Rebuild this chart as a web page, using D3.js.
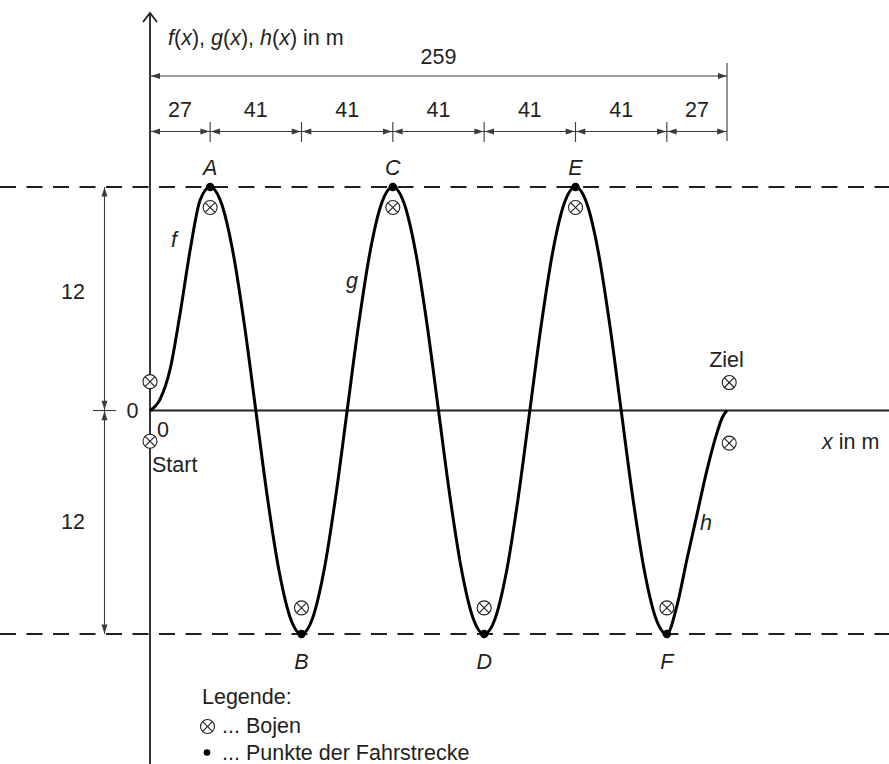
<!DOCTYPE html>
<html><head><meta charset="utf-8">
<script src="https://cdn.jsdelivr.net/npm/d3@7"></script>
<style>
html,body{margin:0;padding:0;background:#fff;}
text{font-family:'Liberation Sans',Arial,Helvetica,sans-serif;fill:#231f20;}
</style></head>
<body>
<svg id="chart" width="889" height="764"></svg>
<script>
// ---- data ----
const fX = [0, 4.5, 9, 13.5, 18, 22.5, 27];
const fY = [0, 0.6, 2.2, 5.2, 8.6, 11.3, 12];
const gX = [27, 32.125, 37.25, 42.375, 47.5, 52.625, 57.75, 62.875, 68, 73.125, 78.25, 83.375, 88.5, 93.625, 98.75, 103.875, 109, 114.125, 119.25, 124.375, 129.5, 134.625, 139.75, 144.875, 150, 155.125, 160.25, 165.375, 170.5, 175.625, 180.75, 185.875, 191, 196.125, 201.25, 206.375, 211.5, 216.625, 221.75, 226.875, 232];
const gY = [12, 11.1, 8.5, 4.6, 0, -4.6, -8.5, -11.1, -12, -11.1, -8.5, -4.6, 0, 4.6, 8.5, 11.1, 12, 11.1, 8.5, 4.6, 0, -4.6, -8.5, -11.1, -12, -11.1, -8.5, -4.6, 0, 4.6, 8.5, 11.1, 12, 11.1, 8.5, 4.6, 0, -4.6, -8.5, -11.1, -12];
const hX = [232, 236.5, 241, 245.5, 250, 254.5, 257, 259];
const hY = [-12, -10.5, -8.0, -5.6, -3.2, -1.2, -0.35, 0];

const pointNames = ["A", "B", "C", "D", "E", "F"];
const pointX = [27, 68, 109, 150, 191, 232];
const pointY = [12, -12, 12, -12, 12, -12];

const buoyX = [0, 0, 27, 68, 109, 150, 191, 232, 260, 260];
const buoyY = [1.55, -1.65, 10.9, -10.6, 10.9, -10.6, 10.9, -10.6, 1.5, -1.75];

const dimTicks = [0, 27, 68, 109, 150, 191, 232, 259];
const dimLabels = ["27", "41", "41", "41", "41", "41", "27"];
const totalLength = 259;
const amplitude = 12;

// ---- scales ----
const svg = d3.select("#chart");
const x = d3.scaleLinear().domain([0, 259]).range([150, 727]);
const y = d3.scaleLinear().domain([-12, 12]).range([634, 187]);
const ink = "#231f20";
const dimInk = "#3a3a3a";
const FS = 21.5;

function arrow(tx, ty, dir, len = 9, hw = 3) {
  let p;
  if (dir === "left") p = [[tx, ty], [tx + len, ty - hw], [tx + len, ty + hw]];
  if (dir === "right") p = [[tx, ty], [tx - len, ty - hw], [tx - len, ty + hw]];
  if (dir === "up") p = [[tx, ty], [tx - hw, ty + len], [tx + hw, ty + len]];
  if (dir === "down") p = [[tx, ty], [tx - hw, ty - len], [tx + hw, ty - len]];
  svg.append("path").attr("d", "M" + p.map(q => q.join(",")).join("L") + "Z").attr("fill", dimInk);
}

// ---- dashed bounds ----
[amplitude, -amplitude].forEach(v => {
  svg.append("line").attr("x1", 0).attr("x2", 889).attr("y1", y(v)).attr("y2", y(v))
    .attr("stroke", ink).attr("stroke-width", 2).attr("stroke-dasharray", "16,10.5");
});

// ---- axes ----
svg.append("line").attr("x1", x(0)).attr("x2", 889).attr("y1", y(0)).attr("y2", y(0))
  .attr("stroke", ink).attr("stroke-width", 1.8);
svg.append("line").attr("x1", x(0)).attr("x2", x(0)).attr("y1", 13).attr("y2", 764)
  .attr("stroke", ink).attr("stroke-width", 1.8);
svg.append("path").attr("d", `M${x(0) - 7},${22} L${x(0)},${13} L${x(0) + 7},${22}`)
  .attr("fill", "none").attr("stroke", ink).attr("stroke-width", 1.8);

// ---- axis titles ----
const title = svg.append("text").attr("x", 168).attr("y", 45).attr("font-size", FS);
[["f", 1], ["(", 0], ["x", 1], ["), ", 0], ["g", 1], ["(", 0], ["x", 1], ["), ", 0], ["h", 1], ["(", 0], ["x", 1], [") in m", 0]]
  .forEach(([t, it]) => title.append("tspan").attr("font-style", it ? "italic" : "normal").text(t));

const xt = svg.append("text").attr("x", 822).attr("y", 449).attr("font-size", FS);
xt.append("tspan").attr("font-style", "italic").text("x");
xt.append("tspan").text(" in m");

svg.append("text").attr("x", 157).attr("y", 437).attr("font-size", FS).text("0");
svg.append("text").attr("x", 132.5).attr("y", 418).attr("font-size", FS).attr("text-anchor", "middle").text("0");
svg.append("text").attr("x", 152).attr("y", 472).attr("font-size", FS).text("Start");
svg.append("text").attr("x", 726.5).attr("y", 367).attr("font-size", FS).attr("text-anchor", "middle").text("Ziel");

// ---- top dimensions ----
const topY1 = 76, topY2 = 131.5;
svg.append("text").attr("x", x(totalLength / 2)).attr("y", 64).attr("font-size", FS)
  .attr("text-anchor", "middle").text(String(totalLength));
svg.append("line").attr("x1", x(0)).attr("x2", x(totalLength)).attr("y1", topY1).attr("y2", topY1)
  .attr("stroke", dimInk).attr("stroke-width", 1.1);
arrow(x(0) + 1, topY1, "left");
arrow(x(totalLength), topY1, "right");
svg.append("line").attr("x1", x(totalLength)).attr("x2", x(totalLength)).attr("y1", 63).attr("y2", 141)
  .attr("stroke", dimInk).attr("stroke-width", 1.1);
svg.append("line").attr("x1", x(0)).attr("x2", x(totalLength)).attr("y1", topY2).attr("y2", topY2)
  .attr("stroke", dimInk).attr("stroke-width", 1.1);
dimTicks.forEach((t, i) => {
  if (i > 0 && i < dimTicks.length - 1) {
    svg.append("line").attr("x1", x(t)).attr("x2", x(t)).attr("y1", 122).attr("y2", 142)
      .attr("stroke", dimInk).attr("stroke-width", 1.1);
  }
  if (i < dimTicks.length - 1) {
    const a = dimTicks[i], b = dimTicks[i + 1];
    arrow(x(a) + (i === 0 ? 1 : 0.8), topY2, "left");
    arrow(x(b) - 0.8, topY2, "right");
    svg.append("text").attr("x", (x(a) + x(b)) / 2).attr("y", 117).attr("font-size", FS)
      .attr("text-anchor", "middle").text(dimLabels[i]);
  }
});

// ---- left dimensions ----
const lx = 104.5;
svg.append("line").attr("x1", lx).attr("x2", lx).attr("y1", y(amplitude)).attr("y2", y(-amplitude))
  .attr("stroke", dimInk).attr("stroke-width", 1.1);
svg.append("line").attr("x1", 93).attr("x2", 116).attr("y1", y(0)).attr("y2", y(0))
  .attr("stroke", dimInk).attr("stroke-width", 1.1);
arrow(lx, y(amplitude) + 0.5, "up");
arrow(lx, y(0) - 0.8, "down");
arrow(lx, y(0) + 0.8, "up");
arrow(lx, y(-amplitude) - 0.5, "down");
svg.append("text").attr("x", 73).attr("y", 299).attr("font-size", FS).attr("text-anchor", "middle").text(String(amplitude));
svg.append("text").attr("x", 73).attr("y", 529).attr("font-size", FS).attr("text-anchor", "middle").text(String(amplitude));

// ---- curve ----
const pts = [];
fX.forEach((v, i) => pts.push([v, fY[i]]));
gX.forEach((v, i) => { if (i > 0) pts.push([v, gY[i]]); });
hX.forEach((v, i) => { if (i > 0) pts.push([v, hY[i]]); });
const line = d3.line().x(d => x(d[0])).y(d => y(d[1])).curve(d3.curveMonotoneX);
svg.append("path").attr("d", line(pts)).attr("fill", "none").attr("stroke", "#000")
  .attr("stroke-width", 3).attr("stroke-linejoin", "round");

// function labels
svg.append("text").attr("x", 174).attr("y", 247).attr("font-size", FS).attr("font-style", "italic")
  .attr("text-anchor", "middle").text("f");
svg.append("text").attr("x", 346).attr("y", 288).attr("font-size", FS).attr("font-style", "italic").text("g");
svg.append("text").attr("x", 700).attr("y", 530).attr("font-size", FS).attr("font-style", "italic").text("h");

// ---- buoys ----
function buoy(cx, cy, r = 7) {
  const g = svg.append("g").attr("transform", `translate(${cx},${cy})`);
  g.append("circle").attr("r", r).attr("fill", "#fff").attr("stroke", ink).attr("stroke-width", 1.1);
  const d = r * 0.707;
  g.append("line").attr("x1", -d).attr("y1", -d).attr("x2", d).attr("y2", d).attr("stroke", ink).attr("stroke-width", 1.1);
  g.append("line").attr("x1", -d).attr("y1", d).attr("x2", d).attr("y2", -d).attr("stroke", ink).attr("stroke-width", 1.1);
}
buoyX.forEach((bx, i) => buoy(x(bx), y(buoyY[i])));

// ---- course points ----
pointX.forEach((px, i) => {
  svg.append("circle").attr("cx", x(px)).attr("cy", y(pointY[i])).attr("r", 4.2).attr("fill", "#000");
  const top = pointY[i] > 0;
  svg.append("text").attr("x", x(px)).attr("y", top ? 175 : 669).attr("font-size", FS)
    .attr("font-style", "italic").attr("text-anchor", "middle").text(pointNames[i]);
});

// ---- legend ----
svg.append("text").attr("x", 202).attr("y", 704).attr("font-size", FS).text("Legende:");
buoy(207.5, 726.5);
svg.append("text").attr("x", 222).attr("y", 733).attr("font-size", FS).text("... Bojen");
svg.append("circle").attr("cx", 207).attr("cy", 752.5).attr("r", 3.3).attr("fill", "#000");
svg.append("text").attr("x", 222).attr("y", 760).attr("font-size", FS).text("... Punkte der Fahrstrecke");
</script>
</body></html>
